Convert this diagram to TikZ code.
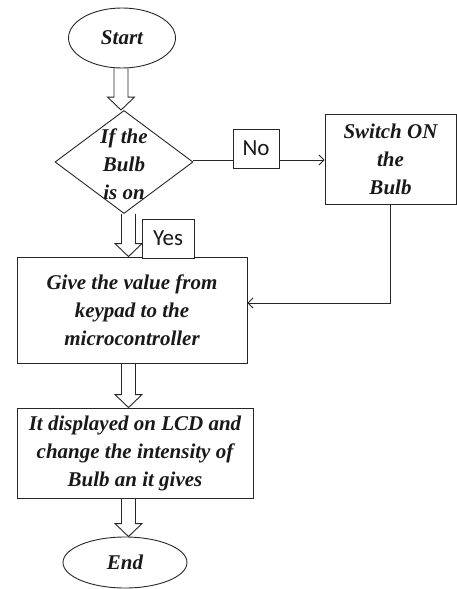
\documentclass[tikz,border=0pt]{standalone}
\usepackage{fontspec}
\setmainfont{Liberation Serif}
\newfontfamily\lblfont{Carlito}
\usetikzlibrary{shapes.geometric,arrows.meta,calc}
\tikzset{
  ln/.style={draw=black!85,line width=0.9pt},
  ttl/.style={font=\fontsize{21}{28}\selectfont\bfseries\itshape,text=black!90,align=center,inner sep=0pt},
  procbox/.style={ln,rectangle,inner sep=0pt,ttl},
  term/.style={ln,ellipse,inner sep=0pt,ttl},
  lbl/.style={ln,rectangle,fill=white,inner sep=0pt,font=\lblfont\fontsize{23}{26}\selectfont,text=black!90},
  blk/.style={ln,line join=miter},
  conn/.style={ln,-{Straight Barb[length=5pt,width=10pt]}}
}
\newcommand\blkarr[3]{\draw[blk] let \p1=(#2), \p2=(#3) in
  (#1pt-7pt,\y1) -- (#1pt-7pt,\y2+13pt) -- (#1pt-13.5pt,\y2+13pt) -- (#1pt,\y2)
  -- (#1pt+13.5pt,\y2+13pt) -- (#1pt+7pt,\y2+13pt) -- (#1pt+7pt,\y1);}
\begin{document}
\begin{tikzpicture}[x=1pt,y=-1pt]
\useasboundingbox (0,0) rectangle (457,589);
% nodes
\node[term,minimum width=107,minimum height=60] (start) at (122,38) {Start};
\node[ln,diamond,inner sep=0pt,minimum width=138,minimum height=103] (dec) at (124,162) {};
\node[ttl] (dectxt) at (124,164) {If the\\Bulb\\is on};
\node[procbox,minimum width=131,minimum height=90] (sw) at (390.5,159) {Switch ON\\the\\Bulb};
\node[procbox,minimum width=230,minimum height=106] (give) at (132,310) {Give the value from\\keypad to the\\microcontroller};
\node[procbox,minimum width=236,minimum height=90] (disp) at (135,453) {It displayed on LCD and\\change the intensity of\\Bulb an it gives};
\node[term,minimum width=124,minimum height=51] (end) at (125,562.5) {End};
% connectors
\coordinate (swin) at ($(sw.west)+(0,1)$);
\draw[conn] (dec.east |- swin) -- (swin);
\coordinate (givein) at ($(give.east)+(0,-7)$);
\draw[conn] (sw.south) |- (givein);
% block arrows
\blkarr{121}{start.south}{dec.north}
\blkarr{128.5}{dec.south}{give.north}
\blkarr{128.5}{give.south}{disp.north}
\blkarr{128.5}{disp.south}{end.north}
% labels
\node[lbl,minimum width=46,minimum height=39] (no) at (256,148.5) {No};
\node[lbl,minimum width=52,minimum height=39] (yes) at (168,238.5) {Yes};
\end{tikzpicture}
\end{document}
